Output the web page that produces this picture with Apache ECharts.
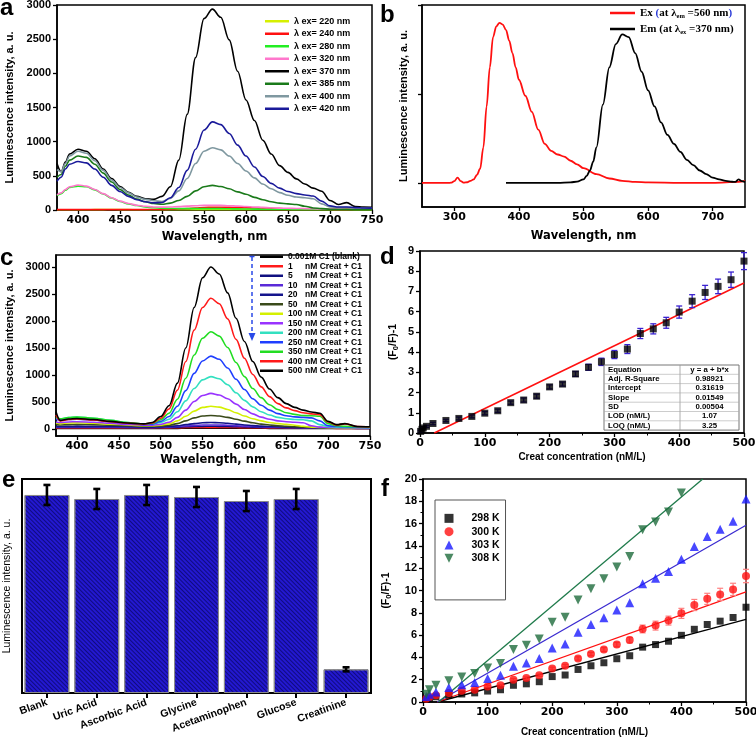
<!DOCTYPE html>
<html>
<head>
<meta charset="UTF-8">
<title>Luminescence study panels</title>
<script src="https://cdn.jsdelivr.net/npm/echarts@6/dist/echarts.min.js"></script>
<style>
html, body { margin: 0; padding: 0; background: #fff; }
#main { width: 756px; height: 741px; }
</style>
</head>
<body>
<div id="main"></div>
<script>
// ---------- panel a : emission at several excitation wavelengths ----------
var waveA = [375,380,385,390,400,410,420,430,440,450,460,470,480,490,500,510,520,530,540,550,560,570,580,590,600,610,620,630,640,650,660,670,680,690,700,710,720,730,740,750];
var namesA = ['λ ex= 220 nm','λ ex= 240 nm','λ ex= 280 nm','λ ex= 320 nm','λ ex= 370 nm','λ ex= 385 nm','λ ex= 400 nm','λ ex= 420 nm'];
var colorsA = ['#d6f000','#ff1010','#22ee22','#ff77cc','#000000','#1a7a1a','#7f98a0','#1a1a9a'];
var ex220 = [3,3,3,3,4,4,5,6,8,6,5,4,4,4,4,4,5,5,6,6,6,6,6,5,5,5,5,4,4,4,4,4,4,4,3,3,3,3,3,3];
var ex240 = [5,5,5,5,5,5,5,5,5,5,5,5,6,7,8,10,14,20,28,36,40,40,38,35,32,29,26,23,20,18,16,14,12,11,10,9,9,8,8,8];
var ex280 = [210,240,290,330,350,340,295,235,175,125,90,65,45,32,25,22,20,20,20,20,20,20,18,16,15,13,12,11,10,10,9,9,8,8,7,7,7,6,6,6];
var ex320 = [220,250,300,340,365,350,300,240,180,130,95,70,55,45,42,45,50,57,63,68,70,68,63,57,52,45,38,32,28,25,22,20,18,16,14,13,12,12,11,10];
var ex370 = [680,560,700,820,890,860,750,600,460,345,260,200,165,155,200,340,730,1400,2230,2800,2940,2820,2490,2030,1610,1310,1020,820,650,550,455,380,320,275,140,80,108,50,45,40];
var ex385 = [480,520,640,730,790,770,670,540,410,300,220,160,120,95,85,100,140,200,280,340,360,345,310,265,230,185,150,120,100,90,80,55,30,20,12,10,10,8,8,8];
var ex400 = [590,560,680,790,860,830,720,580,440,330,250,190,155,135,125,170,280,460,680,860,910,880,790,680,570,470,380,310,255,215,190,180,165,90,45,35,40,30,28,25];
var ex420 = [420,480,600,670,710,690,600,480,360,270,200,150,120,105,110,180,330,580,890,1170,1290,1250,1120,950,790,630,490,390,320,270,240,220,205,130,60,45,45,35,30,28];
var ticksA = [400,450,500,550,600,650,700,750];

// ---------- panel b : excitation / emission spectra ----------
var waveExB = [250,260,270,280,290,295,300,305,310,315,320,325,330,335,340,345,350,355,360,365,370,375,380,385,390,395,400,410,420,430,440,450,460,470,480,490,500,520,540,560,580,600,650,700,740,750];
var exB = [0,0,0,0,0,0.002,0.01,0.03,0.01,0.002,0.004,0.012,0.02,0.045,0.08,0.2,0.43,0.65,0.82,0.88,0.9,0.89,0.86,0.8,0.73,0.65,0.58,0.49,0.4,0.3,0.22,0.18,0.16,0.148,0.125,0.105,0.083,0.05,0.025,0.012,0.006,0.003,0.001,0.001,0.006,0.012];
var waveEmB = [380,400,420,440,460,480,490,500,505,510,515,520,530,540,550,560,570,580,590,600,610,620,630,640,650,660,670,680,690,700,710,720,730,735,740,745,750];
var emB = [0,0,0,0,0.001,0.003,0.008,0.02,0.04,0.07,0.12,0.2,0.44,0.65,0.78,0.835,0.82,0.73,0.625,0.52,0.43,0.34,0.27,0.22,0.175,0.13,0.1,0.07,0.05,0.03,0.02,0.012,0.007,0.006,0.02,0.01,0.005];
var ticksBx = [300,400,500,600,700];
var ticksBy = [0,0.5,1];

// ---------- panel c : titration with creatinine ----------
var waveC = [375,380,390,400,420,440,460,480,490,500,510,520,530,540,550,560,570,580,590,600,610,620,630,640,650,660,670,680,690,700,710,720,735,750];
var namesC = ['0.001M C1 (blank)','1 nM Creat + C1','5 nM Creat + C1','10 nM Creat + C1','20 nM Creat + C1','50 nM Creat + C1','100 nM Creat + C1','150 nM Creat + C1','200 nM Creat + C1','250 nM Creat + C1','350 nM Creat + C1','400 nM Creat + C1','500 nM Creat + C1'];
var colorsC = ['#000000','#ff1a1a','#101080','#5a2ad8','#14148c','#3a4a1a','#d4f000','#9933ff','#33e0c0','#1f3fff','#22dd22','#ff1a1a','#000000'];
var cBlank = [12,12,12,12,12,12,11,11,11,11,12,12,13,14,15,15,15,15,14,14,13,13,12,12,12,11,11,11,11,10,10,10,10,10];
var c1 = [20,20,20,21,20,20,19,18,18,19,21,24,27,29,30,30,30,29,27,25,23,22,20,19,18,17,16,15,14,13,12,12,11,10];
var c5 = [30,28,30,31,30,28,26,24,24,25,28,33,40,45,49,50,49,46,42,38,34,30,28,26,24,22,20,18,17,15,14,13,12,12];
var c10 = [40,38,40,42,40,37,33,30,30,32,36,45,55,66,73,75,73,68,60,52,45,40,36,32,30,28,25,22,20,18,16,15,14,13];
var c20 = [50,45,50,52,50,45,40,35,35,38,45,60,80,100,115,120,116,105,90,75,62,52,45,40,35,30,28,25,22,20,18,16,15,15];
var c50 = [80,75,80,85,80,70,60,50,50,55,70,100,150,205,240,250,240,215,180,145,115,90,75,60,50,40,35,30,25,20,20,15,15,15];
var c100 = [110,100,110,115,105,90,75,60,60,70,95,150,235,330,400,420,405,360,300,240,190,150,120,100,85,70,50,35,30,25,20,20,20,15];
var c150 = [130,120,130,135,125,105,85,70,70,85,125,215,350,510,620,660,630,560,460,360,280,220,180,150,135,125,115,60,35,30,25,25,20,20];
var c200 = [200,190,210,220,200,160,120,90,90,120,180,320,520,750,910,970,930,820,670,530,410,320,260,215,190,175,170,150,80,45,35,30,30,25];
var c250 = [180,160,175,180,165,135,105,85,90,140,230,420,710,1030,1260,1350,1290,1130,920,730,560,440,350,285,245,225,215,205,150,60,45,40,35,30];
var c350 = [230,190,210,220,200,160,120,95,105,170,290,550,940,1370,1680,1800,1720,1510,1230,970,750,580,450,360,300,270,250,245,235,100,60,50,40,35];
var c400 = [260,150,175,185,165,135,105,92,110,200,370,720,1250,1830,2250,2420,2320,2040,1660,1310,1010,780,600,470,390,340,300,280,265,130,75,95,45,40];
var c500 = [320,160,185,195,175,140,110,95,120,230,430,850,1500,2250,2800,3000,2870,2520,2050,1620,1250,960,740,580,470,400,350,315,290,140,80,100,45,40];
var seriesC = [cBlank,c1,c5,c10,c20,c50,c100,c150,c200,c250,c350,c400,c500];
var ticksCx = [400,450,500,550,600,650,700,750];
var ticksCy = [0,500,1000,1500,2000,2500,3000];

// ---------- panel d : Stern-Volmer plot ----------
var concD = [1,3,5,10,20,40,60,80,100,120,140,160,180,200,220,240,260,280,300,320,340,360,380,400,420,440,460,480,500];
var ratioD = [0.08,0.18,0.25,0.33,0.47,0.62,0.72,0.82,0.98,1.1,1.5,1.63,1.82,2.28,2.42,2.92,3.25,3.52,3.88,4.15,4.92,5.15,5.45,5.98,6.52,6.95,7.25,7.58,8.5];
var errD = [0.05,0.05,0.05,0.05,0.06,0.06,0.07,0.07,0.08,0.08,0.08,0.1,0.1,0.1,0.1,0.12,0.15,0.18,0.2,0.22,0.25,0.25,0.27,0.3,0.32,0.35,0.36,0.38,0.42];
var fitD = [[22,0],[500,7.42]];
var tableD = [['Equation','y = a + b*x'],['Adj. R-Square','0.98921'],['Intercept','0.31619'],['Slope','0.01549'],['SD','0.00504'],['LOD (nM/L)','1.07'],['LOQ (nM/L)','3.25']];

// ---------- panel e : selectivity ----------
var catsE = ['Blank','Uric Acid','Ascorbic Acid','Glycine','Acetaminophen','Glucose','Creatinine'];
var valsE = [2961,2901,2961,2931,2871,2901,354];
var errE = [150,150,150,150,150,150,30];

// ---------- panel f : temperature dependence ----------
var concF = [5,10,20,40,60,80,100,120,140,160,180,200,220,240,260,280,300,320,340,360,380,400,420,440,460,480,500];
var k298 = [0.25,0.33,0.47,0.62,0.72,0.82,0.98,1.1,1.5,1.63,1.82,2.28,2.42,2.92,3.25,3.52,3.88,4.15,4.92,5.15,5.45,5.98,6.52,6.95,7.25,7.58,8.5];
var k300 = [0.3,0.45,0.6,0.8,1.0,1.1,1.4,1.5,2.0,2.15,2.4,3.0,3.25,3.9,4.3,4.7,5.15,5.55,6.55,6.85,7.3,7.95,8.7,9.25,9.65,10.1,11.3];
var err300 = [0.05,0.05,0.05,0.05,0.05,0.05,0.08,0.08,0.1,0.1,0.1,0.12,0.12,0.15,0.15,0.18,0.2,0.25,0.35,0.4,0.4,0.45,0.5,0.5,0.55,0.55,0.6];
var k303 = [0.5,0.7,0.9,1.3,1.55,1.75,2.1,2.4,3.2,3.5,3.9,4.85,5.2,6.25,6.95,7.55,8.25,8.9,10.6,11.1,11.7,12.8,13.95,14.85,15.5,16.2,18.2];
var k308 = [0.7,1.1,1.5,1.9,2.25,2.55,3.05,3.45,4.7,5.1,5.65,7.15,7.6,9.15,10.15,11.05,12.1,13.05,15.45,16.15,17.05,18.75];
var fit298 = [[22,0],[500,7.42]];
var fit300 = [[22,0],[500,9.87]];
var fit303 = [[22,0],[500,15.85]];
var fit308 = [[24,0],[433,20]];

var FX = 'DejaVu Sans', FY = 'Liberation Sans';

function pairs(xs, ys) {
	var out = [];
	for (var i = 0; i < ys.length; i++) out.push([xs[i], ys[i]]);
	return out;
}
function triples(xs, ys, es) {
	var out = [];
	for (var i = 0; i < ys.length; i++) out.push([xs[i], ys[i], es[i]]);
	return out;
}

function lineSeries(name, xs, ys, color, gi, width) {
	return {
		name: name, type: 'line', xAxisIndex: gi, yAxisIndex: gi,
		data: pairs(xs, ys), symbol: 'none', smooth: 0.35, smoothMonotone: 'x',
		lineStyle: { color: color, width: width || 1.6 }, itemStyle: { color: color },
		emphasis: { disabled: true }, silent: true
	};
}

function errSeries(name, data, gi, color, half, lw) {
	return {
		name: name, type: 'custom', xAxisIndex: gi, yAxisIndex: gi, data: data, z: 5,
		encode: { x: 0, y: 1 }, silent: true,
		renderItem: function (params, api) {
			var x = api.value(0), y = api.value(1), e = api.value(2);
			var hi = api.coord([x, y + e]), lo = api.coord([x, y - e]);
			function st() { return { stroke: color, lineWidth: lw }; }
			return { type: 'group', children: [
				{ type: 'line', shape: { x1: hi[0], y1: hi[1], x2: lo[0], y2: lo[1] }, style: st() },
				{ type: 'line', shape: { x1: hi[0] - half, y1: hi[1], x2: hi[0] + half, y2: hi[1] }, style: st() },
				{ type: 'line', shape: { x1: lo[0] - half, y1: lo[1], x2: lo[0] + half, y2: lo[1] }, style: st() }
			] };
		}
	};
}

// common axis pieces
function plain(v) { return String(v); }
function axLine(w) { return { show: true, onZero: false, lineStyle: { color: '#000', width: w || 1.5 } }; }
function axTick(vals) { var t = { show: true, length: 4, lineStyle: { color: '#000', width: 1.3 } }; if (vals) t.customValues = vals; return t; }
function xLab(vals) { var l = { color: '#000', fontFamily: FX, fontWeight: 'bold', fontSize: 11, margin: 5, formatter: plain }; if (vals) l.customValues = vals; return l; }
function yLab(vals) { var l = { color: '#000', fontFamily: FY, fontWeight: 'bold', fontSize: 11, margin: 6, formatter: plain }; if (vals) l.customValues = vals; return l; }
function xName(f, size) { return { fontFamily: f, fontWeight: 'bold', fontSize: size, color: '#000' }; }
function grid(l, t, w, h, bw) {
	return { left: l, top: t, width: w, height: h, show: true, borderColor: '#000', borderWidth: bw || 1.5, containLabel: false, outerBoundsMode: 'none' };
}
var noSplit = { show: false };
var lumName = 'Luminescence intensity, a. u.';

var series = [];
// panel a
var exA = [ex220, ex240, ex280, ex320, ex370, ex385, ex400, ex420];
for (var i = 0; i < exA.length; i++) series.push(lineSeries(namesA[i], waveA, exA[i], colorsA[i], 0, 1.6));
// panel b
series.push(lineSeries('Ex', waveExB, exB, '#ff1010', 1, 1.8));
series.push(lineSeries('Em', waveEmB, emB, '#000000', 1, 1.8));
// panel c
for (var j = 0; j < seriesC.length; j++) series.push(lineSeries(namesC[j], waveC, seriesC[j], colorsC[j], 2, 1.6));
// panel d
series.push({ name: 'fitD', type: 'line', xAxisIndex: 3, yAxisIndex: 3, data: fitD, symbol: 'none', lineStyle: { color: '#ff1010', width: 1.5 }, silent: true });
series.push(errSeries('errD', triples(concD, ratioD, errD), 3, '#3a22d0', 3, 1.3));
series.push({ name: 'dataD', type: 'scatter', xAxisIndex: 3, yAxisIndex: 3, data: pairs(concD, ratioD), symbol: 'rect', symbolSize: 7, itemStyle: { color: '#000' }, z: 6, silent: true });
// panel e
series.push({
	name: 'barsE', type: 'bar', xAxisIndex: 4, yAxisIndex: 4, data: valsE, barCategoryGap: '10%', silent: true, z: 2,
	itemStyle: {
		color: '#2318d0', borderColor: '#8a8a8a', borderWidth: 1,
		decal: { symbol: 'rect', symbolSize: 1, dashArrayX: [[8, 0]], dashArrayY: [1, 2], rotation: Math.PI / 4, color: 'rgba(0,0,60,0.55)' }
	}
});
series.push(errSeries('errE', triples([0,1,2,3,4,5,6], valsE, errE), 4, '#000', 3.5, 2.6));
// panel f
series.push({ name: 'fit298', type: 'line', xAxisIndex: 5, yAxisIndex: 5, data: fit298, symbol: 'none', lineStyle: { color: '#000', width: 1.3 }, silent: true });
series.push({ name: 'fit300', type: 'line', xAxisIndex: 5, yAxisIndex: 5, data: fit300, symbol: 'none', lineStyle: { color: '#ff1010', width: 1.3 }, silent: true });
series.push({ name: 'fit303', type: 'line', xAxisIndex: 5, yAxisIndex: 5, data: fit303, symbol: 'none', lineStyle: { color: '#3a2ad0', width: 1.3 }, silent: true });
series.push({ name: 'fit308', type: 'line', xAxisIndex: 5, yAxisIndex: 5, data: fit308, symbol: 'none', lineStyle: { color: '#1e7a4a', width: 1.3 }, silent: true });
series.push(errSeries('err300', triples(concF, k300, err300), 5, '#ff8080', 3, 1.2));
series.push({ name: '298 K', type: 'scatter', xAxisIndex: 5, yAxisIndex: 5, data: pairs(concF, k298), symbol: 'rect', symbolSize: 7, itemStyle: { color: '#000' }, z: 6, silent: true });
series.push({ name: '300 K', type: 'scatter', xAxisIndex: 5, yAxisIndex: 5, data: pairs(concF, k300), symbol: 'circle', symbolSize: 8, itemStyle: { color: '#ff1010' }, z: 6, silent: true });
series.push({ name: '303 K', type: 'scatter', xAxisIndex: 5, yAxisIndex: 5, data: pairs(concF, k303), symbol: 'triangle', symbolSize: 9, itemStyle: { color: '#1a1aff' }, z: 6, silent: true });
series.push({ name: '308 K', type: 'scatter', xAxisIndex: 5, yAxisIndex: 5, data: pairs(concF, k308), symbol: 'triangle', symbolRotate: 180, symbolSize: 9, itemStyle: { color: '#1e6b3c' }, z: 6, silent: true });

// annotations: panel letters, fit table, arrow
var graphic = [];
var letters = [['a', 0, 8], ['b', 380, 15], ['c', 0, 258], ['d', 380, 257], ['e', 2, 480], ['f', 381, 489]];
letters.forEach(function (l) {
	graphic.push({ type: 'text', x: l[1], y: l[2], style: { text: l[0], font: 'bold 24px "Liberation Sans"', fill: '#000', verticalAlign: 'middle' }, z: 100 });
});
var tx0 = 604, tx1 = 680, tx2 = 739, ty0 = 365, rowH = 9.3;
graphic.push({ type: 'rect', shape: { x: tx0, y: ty0, width: tx2 - tx0, height: rowH * tableD.length }, style: { fill: '#fff', stroke: '#777', lineWidth: 1 }, z: 90 });
graphic.push({ type: 'line', shape: { x1: tx1, y1: ty0, x2: tx1, y2: ty0 + rowH * tableD.length }, style: { stroke: '#999', lineWidth: 0.8 }, z: 91 });
tableD.forEach(function (row, r) {
	var yc = ty0 + rowH * (r + 0.5);
	if (r > 0) graphic.push({ type: 'line', shape: { x1: tx0, y1: ty0 + rowH * r, x2: tx2, y2: ty0 + rowH * r }, style: { stroke: '#aaa', lineWidth: 0.6 }, z: 91 });
	graphic.push({ type: 'text', x: tx0 + 4, y: yc, style: { text: row[0], font: 'bold 7.8px "Liberation Sans"', fill: '#000', verticalAlign: 'middle' }, z: 92 });
	graphic.push({ type: 'text', x: (tx1 + tx2) / 2, y: yc, style: { text: row[1], font: 'bold 7.8px "Liberation Sans"', fill: '#000', align: 'center', verticalAlign: 'middle' }, z: 92 });
});
graphic.push({ type: 'line', shape: { x1: 252, y1: 257, x2: 252, y2: 334 }, style: { stroke: '#2a4ae8', lineWidth: 1.5, lineDash: [4, 3] }, z: 80 });
graphic.push({ type: 'line', shape: { x1: 249.5, y1: 256.5, x2: 254.5, y2: 256.5 }, style: { stroke: '#2a4ae8', lineWidth: 1.5 }, z: 80 });
graphic.push({ type: 'polygon', shape: { points: [[248.5, 333], [255.5, 333], [252, 341]] }, style: { fill: '#2a4ae8' }, z: 80 });

var option = {
	animation: false,
	backgroundColor: '#fff',
	textStyle: { fontFamily: FY },
	grid: [
		grid(57, 5, 315, 205),
		grid(422, 5, 323, 202),
		grid(56, 255, 314, 181),
		grid(420, 251, 324, 182),
		grid(22, 479, 349, 214, 2),
		grid(423, 479, 323, 223)
	],
	xAxis: [
		{ type: 'value', gridIndex: 0, min: 375, max: 750, axisLine: axLine(), axisTick: axTick(ticksA), axisLabel: xLab(ticksA), splitLine: noSplit,
			name: 'Wavelength, nm', nameLocation: 'middle', nameGap: 21, nameMoveOverlap: false, nameTextStyle: xName(FX, 11.5) },
		{ type: 'value', gridIndex: 1, min: 250, max: 750, axisLine: axLine(), axisTick: axTick(ticksBx), axisLabel: xLab(ticksBx), splitLine: noSplit,
			name: 'Wavelength, nm', nameLocation: 'middle', nameGap: 23, nameMoveOverlap: false, nameTextStyle: xName(FX, 11.5) },
		{ type: 'value', gridIndex: 2, min: 375, max: 750, axisLine: axLine(), axisTick: axTick(ticksCx), axisLabel: xLab(ticksCx), splitLine: noSplit,
			name: 'Wavelength, nm', nameLocation: 'middle', nameGap: 18, nameMoveOverlap: false, nameTextStyle: xName(FX, 11.5) },
		{ type: 'value', gridIndex: 3, min: 0, max: 500, interval: 100, axisLine: axLine(), axisTick: axTick(), axisLabel: xLab(), splitLine: noSplit,
			minorTick: { show: true, splitNumber: 2, length: 2.5, lineStyle: { color: '#000' } },
			name: 'Creat concentration (nM/L)', nameLocation: 'middle', nameGap: 19, nameMoveOverlap: false, nameTextStyle: xName(FY, 10) },
		{ type: 'category', gridIndex: 4, data: catsE, axisLine: axLine(2), axisTick: { show: true, alignWithLabel: true, length: 5, lineStyle: { color: '#000', width: 2 } },
			axisLabel: { interval: 0, rotate: 20, color: '#000', fontFamily: FY, fontWeight: 'bold', fontSize: 10.5, margin: 9 }, splitLine: noSplit },
		{ type: 'value', gridIndex: 5, min: 0, max: 500, interval: 100, axisLine: axLine(), axisTick: axTick(), axisLabel: xLab(), splitLine: noSplit,
			minorTick: { show: true, splitNumber: 2, length: 2.5, lineStyle: { color: '#000' } },
			name: 'Creat concentration (nM/L)', nameLocation: 'middle', nameGap: 25, nameMoveOverlap: false, nameTextStyle: xName(FY, 10) }
	],
	yAxis: [
		{ type: 'value', gridIndex: 0, min: 0, max: 3000, interval: 500, axisLine: axLine(), axisTick: axTick(), axisLabel: yLab(), splitLine: noSplit,
			name: lumName, nameLocation: 'middle', nameGap: 42, nameMoveOverlap: false, nameTextStyle: xName(FY, 11) },
		{ type: 'value', gridIndex: 1, min: -0.135, max: 1, axisLine: axLine(), axisTick: axTick(ticksBy), axisLabel: { show: false }, splitLine: noSplit,
			name: lumName, nameLocation: 'middle', nameGap: 13, nameMoveOverlap: false, nameTextStyle: xName(FY, 11) },
		{ type: 'value', gridIndex: 2, min: -130, max: 3222, axisLine: axLine(), axisTick: axTick(ticksCy), axisLabel: yLab(ticksCy), splitLine: noSplit,
			name: lumName, nameLocation: 'middle', nameGap: 41, nameMoveOverlap: false, nameTextStyle: xName(FY, 11) },
		{ type: 'value', gridIndex: 3, min: 0, max: 9, interval: 1, axisLine: axLine(), axisTick: axTick(), axisLabel: yLab(), splitLine: noSplit,
			name: '(F{s|0}/F)-1', nameLocation: 'middle', nameGap: 20, nameMoveOverlap: false,
			nameTextStyle: { fontFamily: FY, fontWeight: 'bold', fontSize: 10.5, color: '#000', rich: { s: { fontFamily: FY, fontWeight: 'bold', fontSize: 7.5, color: '#000', padding: [5, 0, 0, 0] } } } },
		{ type: 'value', gridIndex: 4, min: 0, max: 3200, axisLine: axLine(2), axisTick: { show: false }, axisLabel: { show: false }, splitLine: noSplit,
			name: lumName, nameLocation: 'middle', nameGap: 9, nameMoveOverlap: false, nameTextStyle: { fontFamily: FY, fontSize: 10.5, color: '#000' } },
		{ type: 'value', gridIndex: 5, min: 0, max: 20, interval: 2, axisLine: axLine(), axisTick: axTick(), axisLabel: yLab(), splitLine: noSplit,
			minorTick: { show: true, splitNumber: 2, length: 2.5, lineStyle: { color: '#000' } },
			name: '(F{s|0}/F)-1', nameLocation: 'middle', nameGap: 30, nameMoveOverlap: false,
			nameTextStyle: { fontFamily: FY, fontWeight: 'bold', fontSize: 10.5, color: '#000', rich: { s: { fontFamily: FY, fontWeight: 'bold', fontSize: 7.5, color: '#000', padding: [5, 0, 0, 0] } } } }
	],
	legend: [
		{ data: namesA, orient: 'vertical', left: 265, top: 15, padding: 0, itemGap: 0, itemWidth: 24, itemHeight: 2.5, icon: 'rect', selectedMode: false,
			textStyle: { fontFamily: FY, fontWeight: 'bold', fontSize: 9, color: '#000', lineHeight: 12.5 } },
		{ data: ['Ex', 'Em'], orient: 'vertical', left: 610, top: 5, padding: 0, itemGap: 0, itemWidth: 25, itemHeight: 2.5, icon: 'rect', selectedMode: false,
			formatter: function (name) {
				return name === 'Ex' ? 'Ex {p|(}at λ{s|em} =560 nm{p|)}' : 'Em (at λ{s|ex} =370 nm)';
			},
			textStyle: { fontFamily: 'Liberation Serif', fontWeight: 'bold', fontSize: 11, color: '#000', lineHeight: 16,
				rich: {
					s: { fontFamily: 'Liberation Serif', fontWeight: 'bold', fontSize: 6.5, color: '#000', padding: [6, 0, 0, 0] },
					p: { fontFamily: 'Liberation Serif', fontWeight: 'bold', fontSize: 11, color: '#2a3ad8' }
				} } },
		{ data: namesC, orient: 'vertical', left: 260, top: 252, padding: 0, itemGap: 0, itemWidth: 23, itemHeight: 2.5, icon: 'rect', selectedMode: false,
			formatter: function (name) {
				var p = name.indexOf(' nM');
				if (p < 0) return name;
				return '{n|' + name.slice(0, p) + '}' + name.slice(p + 1);
			},
			textStyle: { fontFamily: FY, fontWeight: 'bold', fontSize: 8.5, color: '#000', lineHeight: 9.5,
				rich: { n: { fontFamily: FY, fontWeight: 'bold', fontSize: 8.5, color: '#000', width: 17 } } } },
		{ data: [{ name: '298 K', icon: 'rect' }, { name: '300 K', icon: 'circle' }, { name: '303 K', icon: 'triangle' }, { name: '308 K', icon: 'path://M0,0 L10,0 L5,10 Z' }],
			orient: 'vertical', left: 435, top: 500, padding: [11.7, 6, 35, 9.5], itemGap: 0, itemWidth: 9, itemHeight: 9, selectedMode: false,
			borderColor: '#555', borderWidth: 1, backgroundColor: '#fff',
			textStyle: { fontFamily: FY, fontWeight: 'bold', fontSize: 10.5, color: '#000', lineHeight: 13.3, padding: [0, 0, 0, 13] } }
	],
	graphic: graphic,
	series: series
};

var chart = echarts.init(document.getElementById('main'));
chart.setOption(option);
</script>
</body>
</html>
